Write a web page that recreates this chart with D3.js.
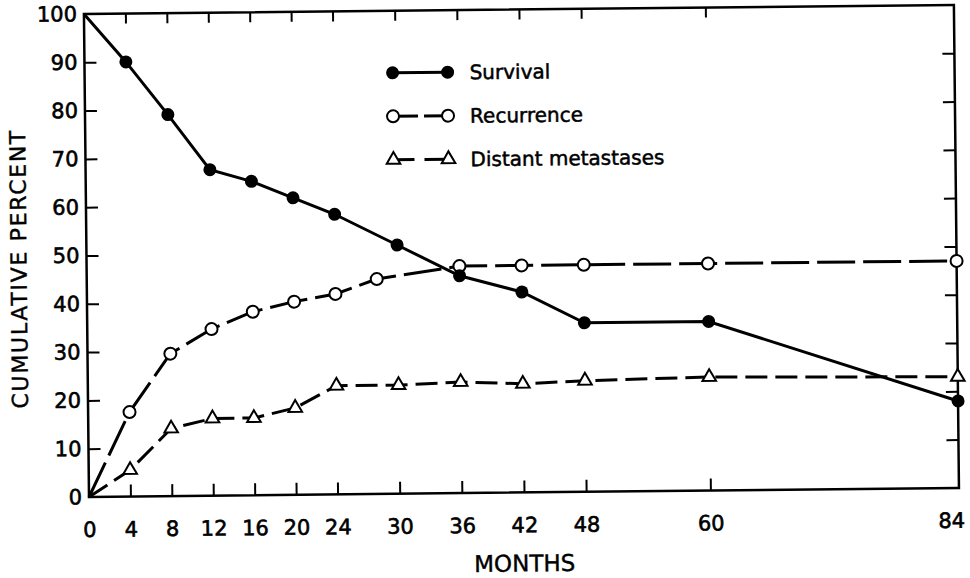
<!DOCTYPE html>
<html>
<head>
<meta charset="utf-8">
<script src="https://cdn.jsdelivr.net/npm/d3@7/dist/d3.min.js"></script>
<style>
  html, body { margin: 0; padding: 0; background: #fff; }
  svg { display: block; }
  text { font-family: "DejaVu Sans", "Liberation Sans", sans-serif; fill: #000; }
</style>
</head>
<body>
<svg id="chart" width="970" height="578"></svg>
<script>
// ---- data ----
const xTickValues = [0, 4, 8, 12, 16, 20, 24, 30, 36, 42, 48, 60, 84];
const yTickValues = [0, 10, 20, 30, 40, 50, 60, 70, 80, 90, 100];

const survivalMonths = [0, 4, 8, 12, 16, 20, 24, 30, 36, 42, 48, 60, 84];
const survivalValues = [100, 90, 79, 67.5, 65, 61.5, 58, 51.5, 45, 41.5, 35, 35, 18];

const recurrenceMonths = [0, 4, 8, 12, 16, 20, 24, 28, 36, 42, 48, 60, 84];
const recurrenceValues = [0, 17.5, 29.5, 34.5, 38, 40, 41.5, 44.5, 47, 47, 47, 47, 47];

const metastasesMonths = [0, 4, 8, 12, 16, 20, 24, 30, 36, 42, 48, 60, 84];
const metastasesValues = [0, 5.5, 14, 16, 16, 18, 22.5, 22.5, 23, 22.5, 23, 23.5, 23];

const seriesNames = ["Survival", "Recurrence", "Distant metastases"];
const xTitle = "MONTHS";
const yTitle = "CUMULATIVE PERCENT";

// ---- layout ----
const svg = d3.select("#chart");
const x0 = 89, x1 = 959, yBottom = 497, yTop = 14;
const tilt = -0.6; // the scanned figure is slightly rotated

const x = d3.scaleLinear().domain([0, 84]).range([x0, x1]);
const y = d3.scaleLinear().domain([0, 100]).range([yBottom, yTop]);

const g = svg.append("g").attr("transform", `rotate(${tilt},${x0},${yBottom})`);

// frame
g.append("rect")
  .attr("x", x0).attr("y", yTop)
  .attr("width", x1 - x0).attr("height", yBottom - yTop)
  .attr("fill", "none").attr("stroke", "#000").attr("stroke-width", 2.5);

// bottom axis (inward ticks + labels)
const axB = g.append("g").attr("transform", `translate(0,${yBottom})`)
  .call(d3.axisBottom(x).tickValues(xTickValues).tickSizeInner(-12).tickSizeOuter(0).tickPadding(25).tickFormat(d3.format("d")));
// top axis ticks
const axT = g.append("g").attr("transform", `translate(0,${yTop})`)
  .call(d3.axisTop(x).tickValues(xTickValues.filter(v => v > 0 && v < 84)).tickSizeInner(-10).tickSizeOuter(0).tickFormat(""));
// left axis
const axL = g.append("g").attr("transform", `translate(${x0},0)`)
  .call(d3.axisLeft(y).tickValues(yTickValues).tickSizeInner(-12).tickSizeOuter(0).tickPadding(7).tickFormat(d3.format("d")));
// right axis ticks
const axR = g.append("g").attr("transform", `translate(${x1},0)`)
  .call(d3.axisRight(y).tickValues(yTickValues.filter(v => v > 0 && v < 100)).tickSizeInner(-12).tickSizeOuter(0).tickFormat(""));

[axB, axT, axL, axR].forEach(a => {
  a.select(".domain").remove();
  a.selectAll(".tick line").attr("stroke", "#000").attr("stroke-width", 2);
  a.selectAll(".tick text")
    .attr("font-size", 21)
    .attr("font-family", "DejaVu Sans, sans-serif")
    .attr("fill", "#000")
    .attr("stroke", "#000").attr("stroke-width", 0.6);
});
// remove ticks that coincide with frame edges
axB.selectAll(".tick").filter(d => d === 0 || d === 84).select("line").remove();
axL.selectAll(".tick").filter(d => d === 0 || d === 100).select("line").remove();
// the last month label sits just inside the frame corner
axB.selectAll(".tick").filter(d => d === 84).select("text").attr("dx", -8);

// ---- lines ----
const line = d3.line().x(d => x(d[0])).y(d => y(d[1]));
const zip = (a, b) => a.map((m, i) => [m, b[i]]);

const survival = zip(survivalMonths, survivalValues);
const recurrence = zip(recurrenceMonths, recurrenceValues);
const metastases = zip(metastasesMonths, metastasesValues);

g.append("path").datum(metastases).attr("d", line)
  .attr("fill", "none").attr("stroke", "#000").attr("stroke-width", 3)
  .attr("stroke-dasharray", "22,8");
g.append("path").datum(recurrence).attr("d", line)
  .attr("fill", "none").attr("stroke", "#000").attr("stroke-width", 3)
  .attr("stroke-dasharray", "38,8");
g.append("path").datum(survival).attr("d", line)
  .attr("fill", "none").attr("stroke", "#000").attr("stroke-width", 3);

// ---- markers ----
const tri = d3.symbol().type(d3.symbolTriangle).size(80);

g.selectAll(".m-tri").data(metastases.filter(d => d[0] > 0)).join("path")
  .attr("transform", d => `translate(${x(d[0])},${y(d[1])})`)
  .attr("d", tri).attr("fill", "#fff").attr("stroke", "#000").attr("stroke-width", 2);
g.selectAll(".m-open").data(recurrence.filter(d => d[0] > 0)).join("circle")
  .attr("cx", d => x(d[0])).attr("cy", d => y(d[1])).attr("r", 6)
  .attr("fill", "#fff").attr("stroke", "#000").attr("stroke-width", 2);
g.selectAll(".m-fill").data(survival.filter(d => d[0] > 0)).join("circle")
  .attr("cx", d => x(d[0])).attr("cy", d => y(d[1])).attr("r", 6.5)
  .attr("fill", "#000");

// ---- legend ----
const lg = g.append("g").attr("transform", "translate(397,76)");
const lx2 = 55, rowH = 43.5, textX = 77;
// survival
lg.append("line").attr("x1", 0).attr("x2", lx2).attr("y1", 0).attr("y2", 0)
  .attr("stroke", "#000").attr("stroke-width", 3);
[0, lx2].forEach(px => lg.append("circle").attr("cx", px).attr("cy", 0).attr("r", 6.5).attr("fill", "#000"));
// recurrence
lg.append("line").attr("x1", 0).attr("x2", lx2).attr("y1", rowH).attr("y2", rowH)
  .attr("stroke", "#000").attr("stroke-width", 3).attr("stroke-dasharray", "25,6,24");
[0, lx2].forEach(px => lg.append("circle").attr("cx", px).attr("cy", rowH).attr("r", 6)
  .attr("fill", "#fff").attr("stroke", "#000").attr("stroke-width", 2));
// metastases
lg.append("line").attr("x1", 0).attr("x2", lx2).attr("y1", 2 * rowH).attr("y2", 2 * rowH)
  .attr("stroke", "#000").attr("stroke-width", 3).attr("stroke-dasharray", "21,10,24");
[0, lx2].forEach(px => lg.append("path").attr("transform", `translate(${px},${2 * rowH})`)
  .attr("d", tri).attr("fill", "#fff").attr("stroke", "#000").attr("stroke-width", 2));

lg.selectAll(".lt").data(seriesNames).join("text")
  .attr("x", textX).attr("y", (d, i) => i * rowH)
  .attr("dy", "0.36em")
  .attr("font-size", 20)
  .attr("stroke", "#000").attr("stroke-width", 0.5)
  .text(d => d);

// ---- axis titles ----
g.append("text")
  .attr("x", 524).attr("y", 576)
  .attr("text-anchor", "middle")
  .attr("font-size", 23)
  .attr("stroke", "#000").attr("stroke-width", 0.4)
  .text(xTitle);

g.append("text")
  .attr("transform", `translate(${29},${268}) rotate(-90)`)
  .attr("text-anchor", "middle")
  .attr("font-size", 22)
  .attr("letter-spacing", 1.7)
  .attr("stroke", "#000").attr("stroke-width", 0.4)
  .text(yTitle);
</script>
</body>
</html>
